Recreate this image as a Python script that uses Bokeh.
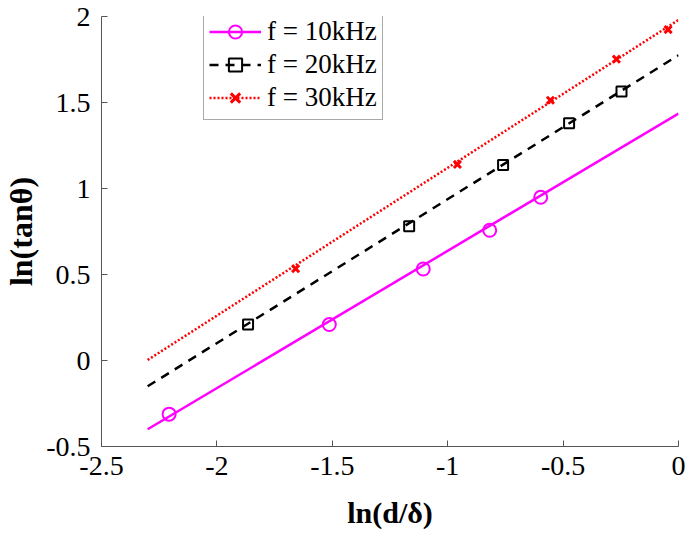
from bokeh.plotting import figure
from bokeh.models import Range1d, FixedTicker, Legend, LegendItem
from bokeh.embed import file_html
from bokeh.resources import INLINE

# ---- data ----
x10 = [-2.207, -1.513, -1.106, -0.818, -0.597]
y10 = [-0.312, 0.209, 0.532, 0.757, 0.949]
x20 = [-1.865, -1.167, -0.760, -0.474, -0.247]
y20 = [0.209, 0.780, 1.136, 1.379, 1.564]
x30 = [-1.659, -0.958, -0.555, -0.269, -0.045]
y30 = [0.534, 1.140, 1.513, 1.752, 1.924]

# fitted straight lines (end points)
fit_x = [-2.3, 0.0]
fit10 = [-0.40, 1.436]
fit20 = [-0.15, 1.775]
fit30 = [0.003, 1.98]

labels = ["f = 10kHz", "f = 20kHz", "f = 30kHz"]

xticks = [-2.5, -2.0, -1.5, -1.0, -0.5, 0.0]
xtick_labels = ["-2.5", "-2", "-1.5", "-1", "-0.5", "0"]
yticks = [-0.5, 0.0, 0.5, 1.0, 1.5, 2.0]
ytick_labels = ["-0.5", "0", "0.5", "1", "1.5", "2"]

FONT = "Liberation Serif"

p = figure(frame_width=577, frame_height=430,
           min_border_left=100, min_border_right=7,
           min_border_top=16, min_border_bottom=88,
           x_range=Range1d(-2.5, 0), y_range=Range1d(-0.5, 2),
           output_backend="svg", toolbar_location=None)
p.outline_line_color = None
p.grid.visible = False
p.background_fill_color = "white"
p.border_fill_color = "white"

r1l = p.line(fit_x, fit10, line_color="#FF00FF", line_width=2.5)
r1m = p.scatter(x10, y10, marker="circle", size=13, line_color="#FF00FF",
                line_width=2, fill_alpha=0)
r2l = p.line(fit_x, fit20, line_color="black", line_width=2.5, line_dash="9 7")
r2m = p.scatter(x20, y20, marker="square", size=10, line_color="black",
                line_width=2, fill_alpha=0)
r3l = p.line(fit_x, fit30, line_color="#FF0000", line_width=2.5, line_dash="2 2")
r3m = p.scatter(x30, y30, marker="x", size=10, line_color="#FF0000",
                line_width=3)

for ax in (p.xaxis[0], p.yaxis[0]):
    ax.axis_line_color = "#555555"
    ax.axis_line_width = 1
    ax.major_tick_line_color = "#555555"
    ax.major_tick_in = 6
    ax.major_tick_out = 0
    ax.minor_tick_line_color = None
    ax.major_label_text_font = FONT
    ax.major_label_text_font_size = "28px"
    ax.major_label_text_color = "black"
    ax.axis_label_text_font = FONT
    ax.axis_label_text_font_style = "bold"
    ax.axis_label_text_color = "black"

p.xaxis[0].axis_label_text_font_size = "30px"
p.yaxis[0].axis_label_text_font_size = "32px"
p.xaxis[0].ticker = FixedTicker(ticks=xticks)
p.xaxis[0].major_label_overrides = {t: s for t, s in zip(xticks, xtick_labels)}
p.yaxis[0].ticker = FixedTicker(ticks=yticks)
p.yaxis[0].major_label_overrides = {t: s for t, s in zip(yticks, ytick_labels)}
p.xaxis[0].major_label_standoff = 10
p.yaxis[0].major_label_standoff = 11
p.xaxis[0].axis_label = "ln(d/δ)"
p.yaxis[0].axis_label = "ln(tanθ)"
p.xaxis[0].axis_label_standoff = 18
p.yaxis[0].axis_label_standoff = 4

legend = Legend(items=[LegendItem(label=labels[0], renderers=[r1l, r1m]),
                       LegendItem(label=labels[1], renderers=[r2l, r2m]),
                       LegendItem(label=labels[2], renderers=[r3l, r3m])],
                location=(102, 326))
legend.label_text_font = FONT
legend.label_text_font_size = "27px"
legend.label_text_color = "black"
legend.glyph_width = 52
legend.glyph_height = 33
legend.label_height = 33
legend.spacing = 0
legend.padding = 5
legend.margin = 0
legend.label_standoff = 6
legend.border_line_color = "#555555"
legend.border_line_width = 1
legend.background_fill_color = "white"
legend.background_fill_alpha = 1
p.add_layout(legend)

open("out.html", "w").write(file_html(p, INLINE))
